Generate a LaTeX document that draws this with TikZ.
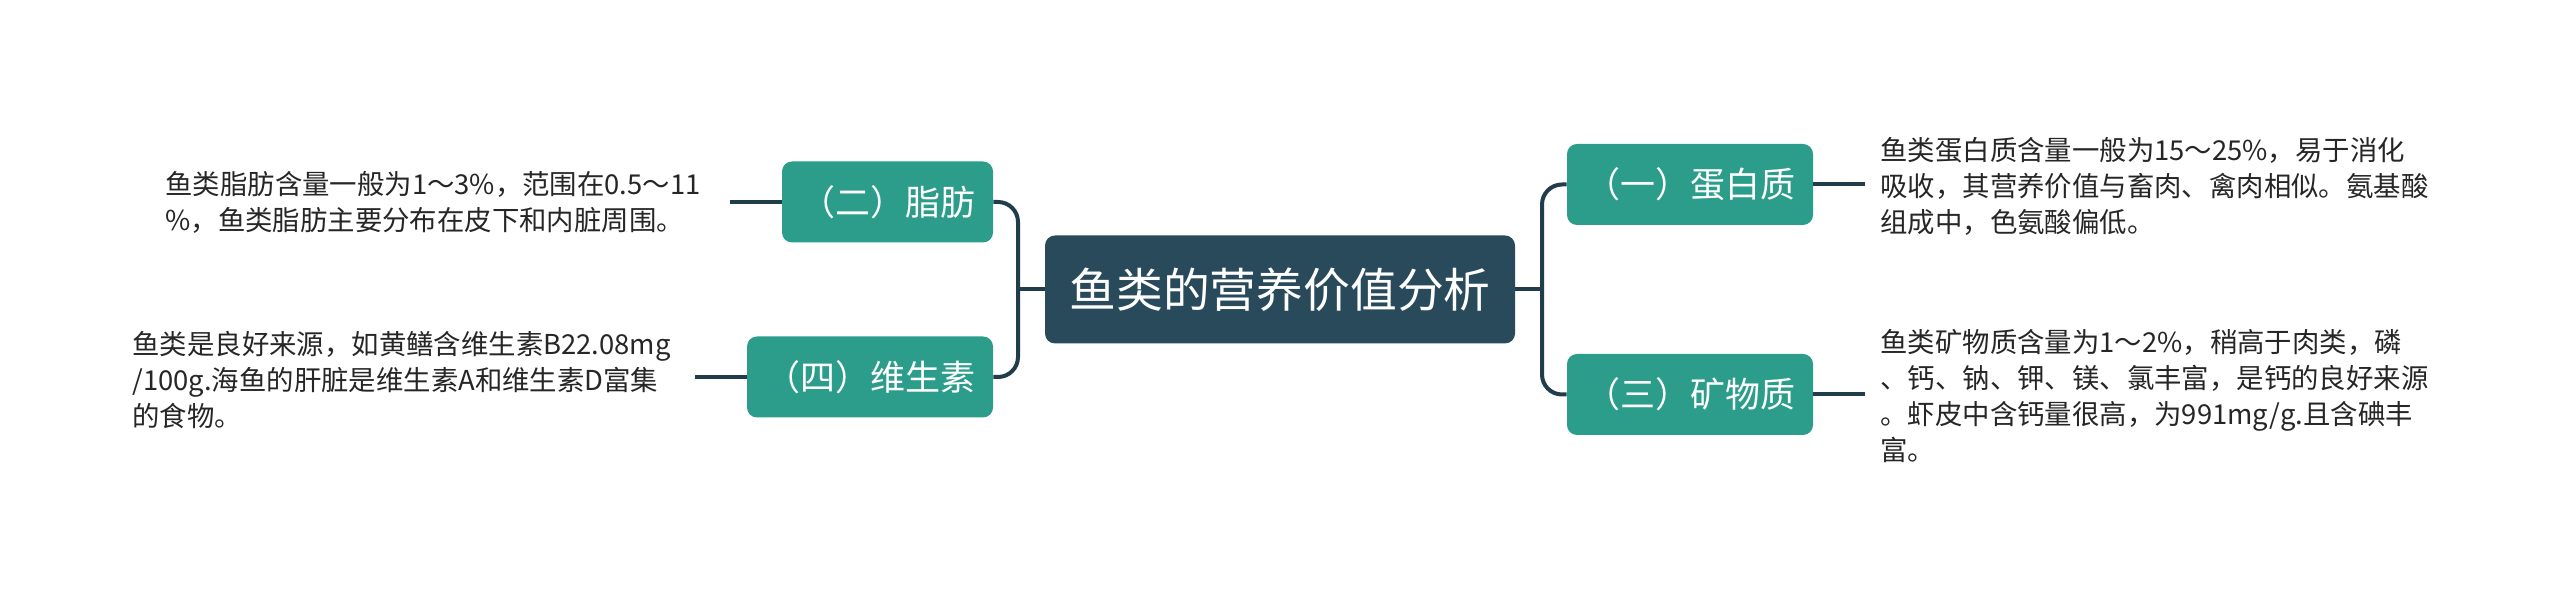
\documentclass[tikz,border=0pt]{standalone}
\usepackage{fontspec}
\setmainfont{Noto Sans CJK SC}
\definecolor{tealbox}{HTML}{2C9C8B}
\definecolor{rootbox}{HTML}{284A5A}
\definecolor{linkcol}{HTML}{213D4C}
\definecolor{leaftext}{HTML}{262626}
\begin{document}
\begin{tikzpicture}[x=0.5pt,y=-0.5pt,
  root/.style={fill=rootbox, rounded corners=5pt, text=white, font=\fontsize{23.4}{28}\selectfont, minimum width=235pt, minimum height=54pt, inner sep=0pt},
  branch/.style={fill=tealbox, rounded corners=5pt, text=white, font=\fontsize{17.5}{20}\selectfont, minimum height=40.5pt, inner sep=0pt},
  leaf/.style={align=left, font=\fontsize{13.7}{18}\selectfont, text=leaftext, inner sep=0pt},
  conn/.style={draw=linkcol, line width=2pt, rounded corners=10pt}]
\useasboundingbox (0,0) rectangle (2560,597);
\fill[white] (0,0) rectangle (2560,597);
% nodes
\node[root] (c) at (1280,289.5) {鱼类的营养价值分析};
\node[branch, minimum width=123pt] (n1) at (1690,184.5) {（一）蛋白质};
\node[branch, minimum width=123pt] (n3) at (1690,394.5) {（三）矿物质};
\node[branch, minimum width=105.5pt] (n2) at (887.5,202) {（二）脂肪};
\node[branch, minimum width=123pt] (n4) at (870,377) {（四）维生素};
% junctions and leaf ends
\coordinate (rj) at (1542,289.5);
\coordinate (lj) at (1018,289.5);
\coordinate (e1) at (1865,184.5);
\coordinate (e3) at (1865,394.5);
\coordinate (e2) at (730,202);
\coordinate (e4) at (695,377);
% connectors
\draw[conn] (c.east) -- (rj);
\draw[conn] (n1.west) -| (rj) |- (n3.west);
\draw[conn] (c.west) -- (lj);
\draw[conn] (n2.east) -| (lj) |- (n4.east);
\draw[conn] (n1.east) -- (e1);
\draw[conn] (n3.east) -- (e3);
\draw[conn] (n2.west) -- (e2);
\draw[conn] (n4.west) -- (e4);
% leaf texts
\node[leaf, anchor=west] (t1) at (1880,186) {鱼类蛋白质含量一般为15～25\%，易于消化\\吸收，其营养价值与畜肉、禽肉相似。氨基酸\\组成中，色氨酸偏低。};
\node[leaf, anchor=west] (t3) at (1880,396) {鱼类矿物质含量为1～2\%，稍高于肉类，磷\\、钙、钠、钾、镁、氯丰富，是钙的良好来源\\。虾皮中含钙量很高，为991mg/g.且含碘丰\\富。};
\node[leaf, anchor=west] (t2) at (165,202) {鱼类脂肪含量一般为1～3\%，范围在0.5～11\\\%，鱼类脂肪主要分布在皮下和内脏周围。};
\node[leaf, anchor=west] (t4) at (132,380) {鱼类是良好来源，如黄鳝含维生素B22.08mg\\/100g.海鱼的肝脏是维生素A和维生素D富集\\的食物。};
\end{tikzpicture}
\end{document}
